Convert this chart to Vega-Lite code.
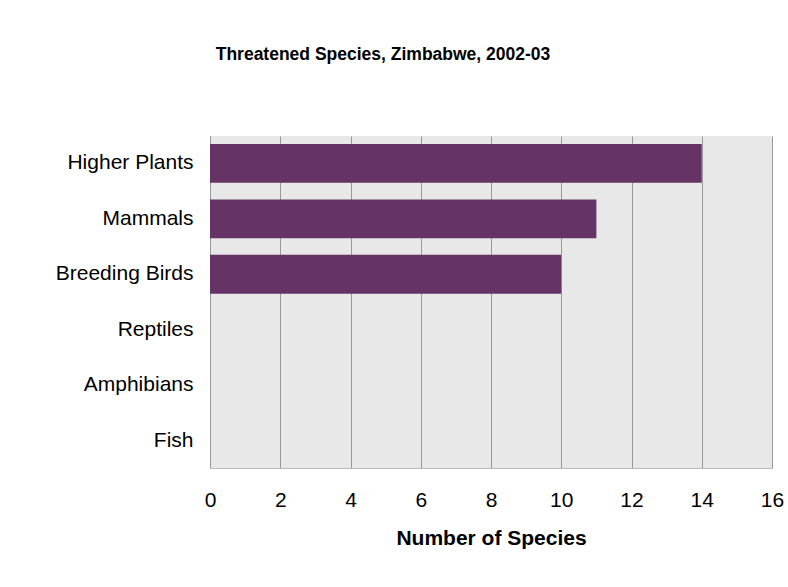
{
  "$schema": "https://vega.github.io/schema/vega-lite/v6.json",
  "width": 562,
  "height": 332,
  "autosize": {"type": "none"},
  "padding": {"left": 210, "top": 136, "right": 16, "bottom": 119},
  "background": "white",
  "title": {
    "text": "Threatened Species, Zimbabwe, 2002-03",
    "font": "Liberation Sans",
    "fontSize": 17.5,
    "fontWeight": "bold",
    "color": "black",
    "anchor": "middle",
    "dx": -108,
    "offset": 73
  },
  "data": {
    "values": [
      {"category": "Higher Plants", "species": 14},
      {"category": "Mammals", "species": 11},
      {"category": "Breeding Birds", "species": 10},
      {"category": "Reptiles", "species": 0},
      {"category": "Amphibians", "species": 0},
      {"category": "Fish", "species": 0}
    ]
  },
  "mark": {"type": "bar", "color": "#663366"},
  "encoding": {
    "y": {
      "field": "category",
      "type": "nominal",
      "sort": ["Higher Plants", "Mammals", "Breeding Birds", "Reptiles", "Amphibians", "Fish"],
      "scale": {"paddingInner": 0.3, "paddingOuter": 0.143},
      "axis": {
        "title": null,
        "ticks": false,
        "domain": true,
        "domainColor": "#999999",
        "labelFont": "Liberation Sans",
        "labelFontSize": 21,
        "labelColor": "black",
        "labelPadding": 17,
        "grid": false
      }
    },
    "x": {
      "field": "species",
      "type": "quantitative",
      "scale": {"domain": [0, 16], "nice": false},
      "axis": {
        "title": "Number of Species",
        "titleFont": "Liberation Sans",
        "titleFontSize": 21,
        "titleFontWeight": "bold",
        "titleColor": "black",
        "titlePadding": 17,
        "values": [0, 2, 4, 6, 8, 10, 12, 14, 16],
        "ticks": false,
        "domain": true,
        "domainColor": "#bbbbbb",
        "grid": true,
        "gridColor": "#999999",
        "gridOpacity": 1,
        "labelFont": "Liberation Sans",
        "labelFontSize": 21,
        "labelColor": "black",
        "labelPadding": 21,
        "labelFlush": false
      }
    }
  },
  "config": {
    "view": {"fill": "#e8e8e8", "stroke": null}
  }
}
